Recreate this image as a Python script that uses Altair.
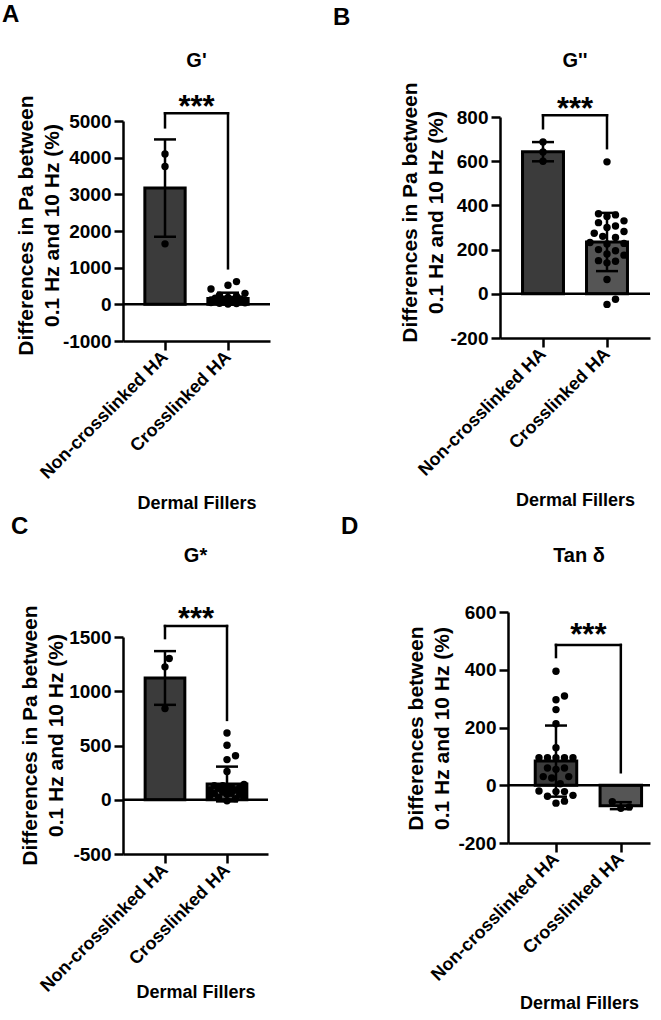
import altair as alt
import pandas as pd

GROUPS = ["Non-crosslinked HA", "Crosslinked HA"]
X_TITLE = "Dermal Fillers"
Y_TITLE_PA = ["Differences in Pa between", "0.1 Hz and 10 Hz (%)"]
Y_TITLE_TAN = ["Differences between", "0.1 Hz and 10 Hz (%)"]

# Change (%) between 0.1 Hz and 10 Hz, one value per filler
g_storage_non = [4100, 3760, 1650]
g_storage_cross = [620, 520, 420, 300, 250, 220, 190, 170, 150, 140, 130, 120, 110,
                   100, 95, 90, 80, 75, 70, 60, 50, 40, 30, 20, 10]
g_loss_non = [687, 642, 600]
g_loss_cross = [597, 362, 357, 350, 330, 322, 307, 300, 282, 274, 260, 255, 232,
                228, 225, 200, 195, 180, 175, 150, 147, 140, 65, -25, -48]
g_complex_non = [1302, 1225, 840]
g_complex_cross = [615, 502, 405, 370, 260, 140, 130, 130, 120, 110, 105, 100, 90,
                   90, 80, 70, 60, 60, 50, 50, 40, 30, 20, 10, -10]
tan_delta_non = [395, 309, 296, 262, 213, 130, 95, 95, 95, 95, 95, 60, 60, 55, 30,
                 30, 25, 5, -20, -22, -22, -35, -38, -55, -62]
tan_delta_cross = [-80, -75, -57]

PANELS = [
    dict(letter="A", title="G'", non=g_storage_non, cross=g_storage_cross,
         ydom=[-1000, 5000], yticks=[-1000, 0, 1000, 2000, 3000, 4000, 5000],
         ytitle=Y_TITLE_PA, colors=["#3b3b3b", "#555555"],
         bracket=(4827, 982, 5209), stars=5100),
    dict(letter="B", title="G''", non=g_loss_non, cross=g_loss_cross,
         ydom=[-200, 800], yticks=[-200, 0, 200, 400, 600, 800],
         ytitle=Y_TITLE_PA, colors=["#3e3e3e", "#666666"],
         bracket=(749, 659, 808), stars=790),
    dict(letter="C", title="G*", non=g_complex_non, cross=g_complex_cross,
         ydom=[-500, 1500], yticks=[-500, 0, 500, 1000, 1500],
         ytitle=Y_TITLE_PA, colors=["#3b3b3b", "#555555"],
         bracket=(1490, 736, 1601), stars=1573),
    dict(letter="D", title="Tan δ", non=tan_delta_non, cross=tan_delta_cross,
         ydom=[-200, 600], yticks=[-200, 0, 200, 400, 600],
         ytitle=Y_TITLE_TAN, colors=["#555555", "#6b6b6b"],
         bracket=(444, 45, 486), stars=485),
]

# page geometry of each panel (pixels)
LAYOUT = [
    dict(ox=123, oy=117, top=121, bottom=341, right=270, xdom=[-0.667, 1.667],
         left_pad=123, right_pad=207, top_pad=117, bottom_pad=397,
         letter=(-121, -95), title_y=-50, ytx=-91, yty=108, xty=167),
    dict(ox=500, oy=117, top=117, bottom=338, right=650, xdom=[-0.672, 1.672],
         left_pad=170, right_pad=150, top_pad=117, bottom_pad=397,
         letter=(-167, -92), title_y=-50, ytx=-84, yty=95, xty=167),
    dict(ox=115, oy=612, top=637, bottom=854, right=260, xdom=[-0.677, 1.661],
         left_pad=115, right_pad=215, top_pad=98, bottom_pad=400,
         letter=(-112, -78), title_y=-50, ytx=-87, yty=123, xty=143),
    dict(ox=500, oy=612, top=612, bottom=843, right=642, xdom=[-0.74, 1.45],
         left_pad=170, right_pad=150, top_pad=98, bottom_pad=400,
         letter=(-167, -78), title_y=-50, ytx=-86, yty=116, xty=165),
]

BAR_HALF = 0.32
CAP_PX = 11
DOT_PX = 8.5
SWARM_HALF_PX = 20


def swarm(vals, ppu_y, ppu_x):
    """Spread points sideways so that dots of equal value do not pile up."""
    order = sorted(range(len(vals)), key=lambda i: vals[i])
    step = DOT_PX / 2
    cands = [0.0]
    k = 1
    while k * step <= SWARM_HALF_PX:
        cands += [k * step, -k * step]
        k += 1
    placed, out = [], [0.0] * len(vals)
    for i in order:
        yp = vals[i] * ppu_y
        best, best_d = 0.0, -1.0
        for c in cands:
            d = min([((c - px) ** 2 + (yp - py) ** 2) ** 0.5 for px, py in placed],
                    default=1e9)
            if d >= DOT_PX:
                best = c
                break
            if d > best_d:
                best_d, best = d, c
        placed.append((best, yp))
        out[i] = best / ppu_x
    return out


def panel(p, L):
    w = L["right"] - L["ox"]
    h = L["bottom"] - L["oy"]
    ydom, xdom = p["ydom"], L["xdom"]
    ppu_y = (L["bottom"] - L["top"]) / (ydom[1] - ydom[0])
    ppu_x = w / (xdom[1] - xdom[0])
    cap = CAP_PX / ppu_x

    rows = []
    for gi, vals in enumerate([p["non"], p["cross"]]):
        for v, o in zip(vals, swarm(vals, ppu_y, ppu_x)):
            rows.append(dict(group=GROUPS[gi], g=gi, v=v, xj=gi + o))
    df = pd.DataFrame(rows)

    xs = alt.Scale(domain=xdom, nice=False, zero=False)
    ys = alt.Scale(domain=ydom, range=[h, L["top"] - L["oy"]], nice=False, zero=False)

    label_expr = f"datum.value == 0 ? '{GROUPS[0]}' : '{GROUPS[1]}'"
    xaxis = alt.Axis(values=[0, 1], labelExpr=label_expr, labelAngle=315,
                     labelAlign="right", labelBaseline="middle", labelFontSize=18,
                     labelFontWeight="bold", labelColor="black", labelPadding=4,
                     labelLimit=400, labelOverlap=False, labelFlush=False,
                     tickSize=9, tickWidth=2.5, tickColor="black",
                     domainColor="black", domainWidth=2.5, grid=False,
                     title=X_TITLE, titleFontSize=18, titleFontWeight="bold",
                     titleColor="black", titleY=L["xty"], titleBaseline="alphabetic")
    yaxis = alt.Axis(values=p["yticks"], labelExpr="datum.value + ''",
                     labelFontSize=19, labelFontWeight="bold", labelColor="black",
                     labelPadding=3, labelOverlap=False, labelFlush=False,
                     tickSize=9, tickWidth=2.5, tickColor="black",
                     domainColor="black", domainWidth=2.5, grid=False,
                     title=p["ytitle"], titleFontSize=21, titleFontWeight="bold",
                     titleColor="black", titleAngle=270, titleAlign="center",
                     titleBaseline="alphabetic", titleLineHeight=26,
                     titleX=L["ytx"], titleY=L["yty"])

    def X(field):
        return alt.X(field, type="quantitative", scale=xs, axis=xaxis)

    def Y(field):
        return alt.Y(field, type="quantitative", scale=ys, axis=yaxis)

    one = pd.DataFrame({"k": [0]})

    spacer = alt.Chart(one).mark_rule(opacity=0, strokeWidth=1).encode(
        x=alt.value(-L["left_pad"]), x2=alt.value(L["right_pad"]),
        y=alt.value(-L["top_pad"]), y2=alt.value(L["bottom_pad"]))

    stats = alt.Chart(df).transform_aggregate(
        mean="mean(v)", sd="stdev(v)", groupby=["group", "g"]
    ).transform_calculate(
        lo=f"datum.g - {BAR_HALF}", hi=f"datum.g + {BAR_HALF}",
        cl=f"datum.g - {cap}", cr=f"datum.g + {cap}",
        elo="datum.mean - (isValid(datum.sd) ? datum.sd : 0)",
        ehi="datum.mean + (isValid(datum.sd) ? datum.sd : 0)",
    )

    bars = stats.mark_bar(stroke="black", strokeWidth=3).encode(
        x=X("lo"), x2="hi:Q", y=Y("mean"), y2=alt.Y2(datum=0),
        color=alt.Color("group:N", scale=alt.Scale(domain=GROUPS, range=p["colors"]),
                        legend=None))

    zero = alt.Chart(one).mark_rule(color="black", strokeWidth=2.5).encode(
        x=alt.value(0), x2=alt.value(w), y=alt.Y(datum=0, type="quantitative",
                                                  scale=ys, axis=yaxis))

    err = stats.mark_rule(color="black", strokeWidth=2.5).encode(
        x=X("g"), y=Y("elo"), y2="ehi:Q")
    cap_hi = stats.mark_rule(color="black", strokeWidth=2.5).encode(
        x=X("cl"), x2="cr:Q", y=Y("ehi"))
    cap_lo = stats.mark_rule(color="black", strokeWidth=2.5).encode(
        x=X("cl"), x2="cr:Q", y=Y("elo"))

    dots = alt.Chart(df).mark_circle(size=55, color="black", opacity=1).encode(
        x=X("xj"), y=Y("v"))

    left, right, top = p["bracket"]
    br = pd.DataFrame([
        dict(x=0, x2=1, y=top, y2=top),
        dict(x=0, x2=0, y=left, y2=top),
        dict(x=1, x2=1, y=right, y2=top),
    ])
    bracket = alt.Chart(br).mark_rule(color="black", strokeWidth=2.5,
                                      strokeCap="square").encode(
        x=X("x"), x2="x2:Q", y=Y("y"), y2="y2:Q")

    stars = alt.Chart(pd.DataFrame({"x": [0.5], "y": [p["stars"]], "t": ["***"]})
                      ).mark_text(fontSize=31, fontWeight="bold", color="black",
                                  align="center", baseline="alphabetic").encode(
        x=X("x"), y=Y("y"), text="t:N")

    title = alt.Chart(one).mark_text(text=p["title"], fontSize=20, fontWeight="bold",
                                     color="black", align="center",
                                     baseline="alphabetic").encode(
        x=alt.value(w / 2), y=alt.value(L["title_y"]))

    letter = alt.Chart(one).mark_text(text=p["letter"], fontSize=24, fontWeight="bold",
                                      color="black", align="left",
                                      baseline="alphabetic").encode(
        x=alt.value(L["letter"][0]), y=alt.value(L["letter"][1]))

    return alt.layer(spacer, bars, zero, err, cap_hi, cap_lo, dots, bracket, stars,
                     title, letter).properties(width=w, height=h)


charts = [panel(p, L) for p, L in zip(PANELS, LAYOUT)]
row1 = alt.hconcat(charts[0], charts[1], spacing=0)
row2 = alt.hconcat(charts[2], charts[3], spacing=0)
chart = alt.vconcat(row1, row2, spacing=0).properties(padding=0).configure(
    font="Liberation Sans").configure_view(stroke=None)

chart.save("out.html", embed_options={"renderer": "svg", "actions": False})
